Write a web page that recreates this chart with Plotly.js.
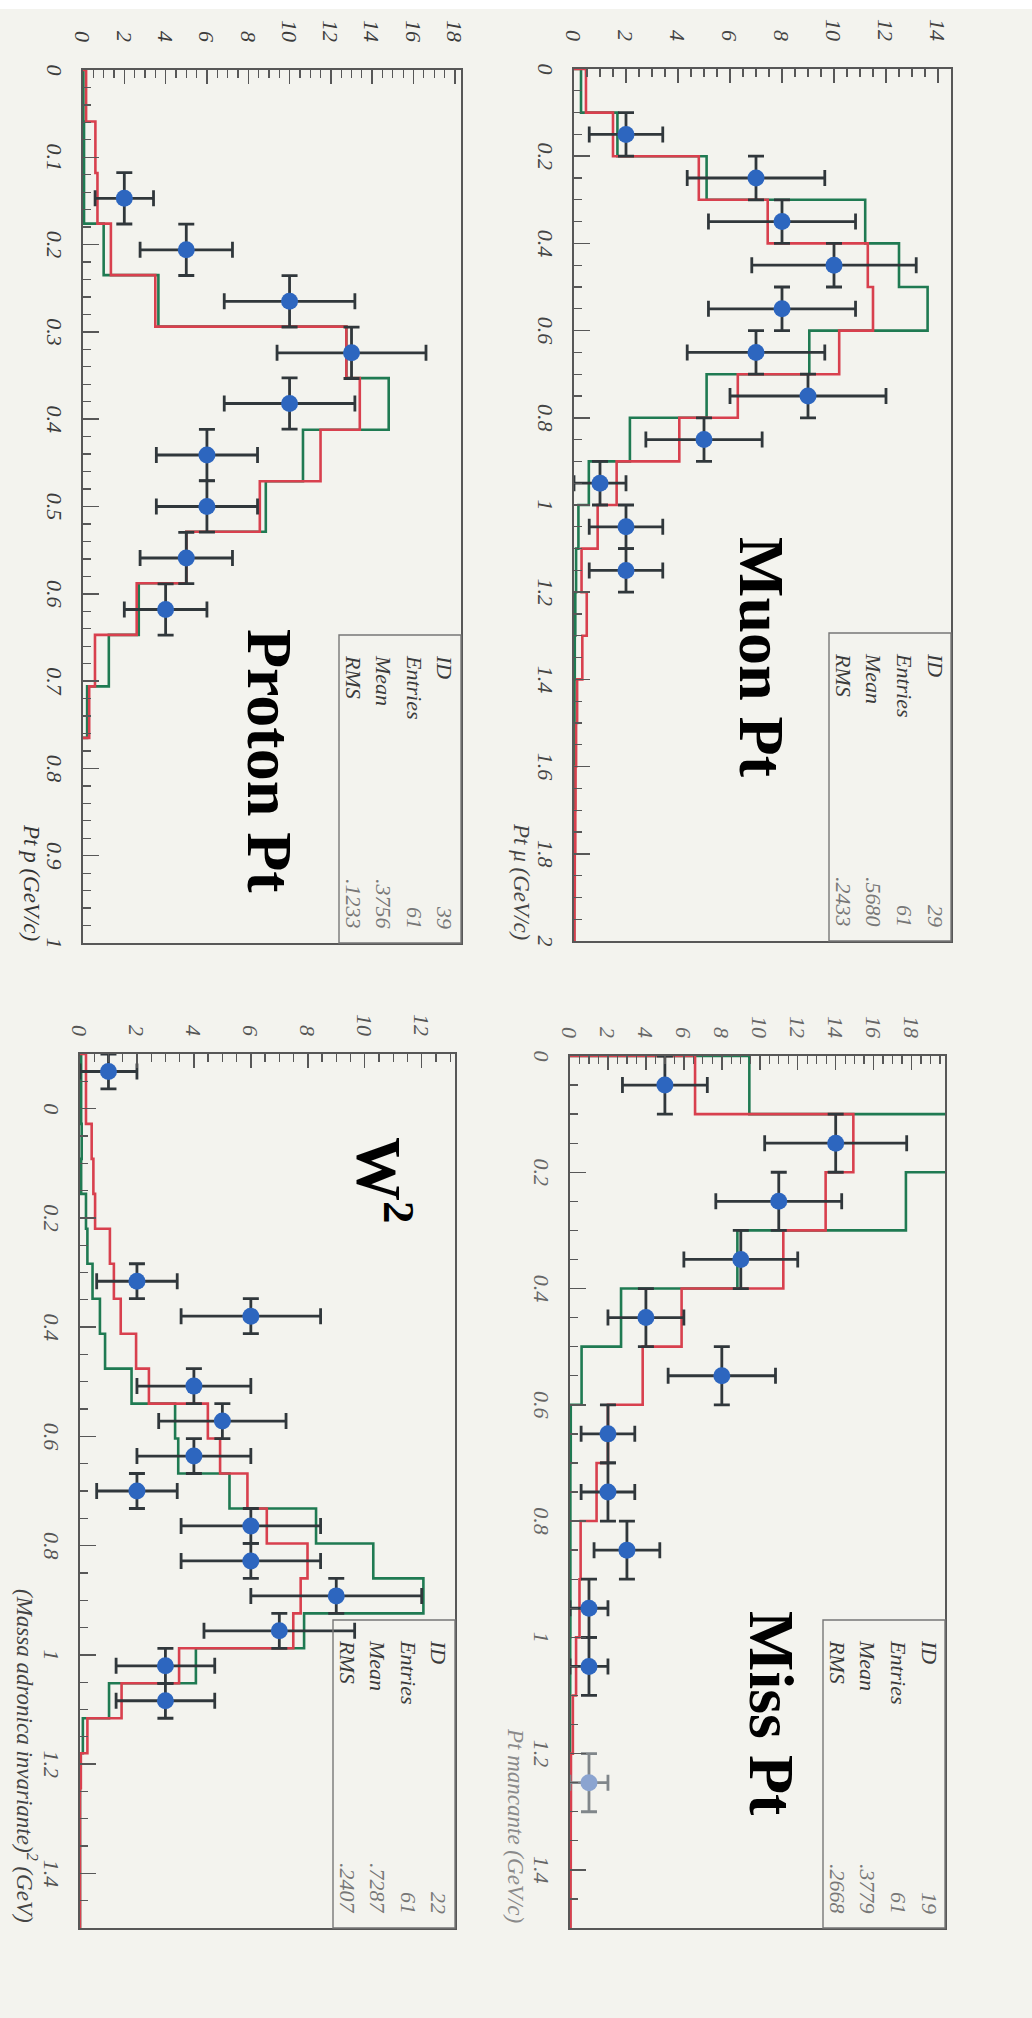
<!DOCTYPE html>
<html>
<head>
<meta charset="utf-8">
<script src="https://cdn.plot.ly/plotly-3.0.1.min.js"></script>
<style>
  html, body { margin: 0; padding: 0; width: 1032px; height: 2018px; overflow: hidden; background: #f3f3ee; }
  #edge { position: absolute; left: 0; top: 0; width: 1032px; height: 9px; background: #ffffff; }
  /* the four histograms are laid out on a landscape sheet, then turned a quarter turn clockwise */
  #sheet { position: absolute; left: 0; top: 0; width: 2018px; height: 1032px;
           transform-origin: 0 0; transform: translate(1032px, 0) rotate(90deg); }
</style>
</head>
<body>
<div id="edge"></div>
<div id="sheet"></div>
<script>
// ---------------- Muon Pt ----------------
const muonEdges = [0, 0.1, 0.2, 0.3, 0.4, 0.5, 0.6, 0.7, 0.8, 0.9, 1.0, 1.1, 1.2, 1.3, 1.4, 1.5, 1.6, 1.7, 1.8, 1.9, 2.0];
const muonRed   = [0.46, 1.5, 4.8, 7.45, 11.3, 11.5, 10.2, 6.3, 4.05, 1.64, 0.91, 0.29, 0.49, 0.32, 0.12, 0.08, 0.06, 0.05, 0.03, 0.02];
const muonGreen = [0.27, 1.67, 5.1, 11.2, 12.5, 13.6, 9.05, 5.1, 2.15, 0.57, 0.17, 0.08, 0.05, 0.03, 0.02, 0, 0, 0, 0, 0];
const muonX = [0.15, 0.25, 0.35, 0.45, 0.55, 0.65, 0.75, 0.85, 0.95, 1.05, 1.15];
const muonY = [2, 7, 8, 10, 8, 7, 9, 5, 1, 2, 2];
const muonStats = ['29', '61', '.5680', '.2433'];

// ---------------- Miss Pt ----------------
const missEdges = [0, 0.1, 0.2, 0.3, 0.4, 0.5, 0.6, 0.7, 0.8, 0.9, 1.0, 1.1, 1.2, 1.3, 1.4, 1.5];
const missRed   = [6.59, 14.93, 13.47, 11.24, 5.88, 3.83, 2.0, 1.4, 0.56, 0.5, 0.32, 0.15, 0.05, 0.04, 0.03];
const missGreen = [9.45, 21.7, 17.7, 8.82, 2.69, 0.61, 0.04, 0.02, 0.02, 0.02, 0.01, 0, 0, 0, 0];
const missX = [0.05, 0.15, 0.25, 0.35, 0.45, 0.55, 0.65, 0.75, 0.85, 0.95, 1.05, 1.25];
const missY = [5, 14, 11, 9, 4, 8, 2, 2, 3, 1, 1, 1];
const missFaint = [false, false, false, false, false, false, false, false, false, false, false, true];
const missStats = ['19', '61', '.3779', '.2668'];

// ---------------- Proton Pt ----------------
const protonEdges = [0, 0.059, 0.118, 0.176, 0.235, 0.294, 0.353, 0.412, 0.471, 0.529, 0.588, 0.647, 0.706, 0.765];
const protonRed   = [0.15, 0.6, 0.7, 1.35, 3.5, 12.75, 13.4, 11.5, 8.56, 5.0, 2.6, 0.58, 0.3];
const protonGreen = [0.02, 0.05, 0.05, 1.0, 3.65, 12.75, 14.8, 10.65, 8.85, 5.0, 2.7, 1.25, 0.2];
const protonX = [0.147, 0.206, 0.265, 0.324, 0.382, 0.441, 0.5, 0.559, 0.618];
const protonY = [2, 5, 10, 13, 10, 6, 6, 5, 4];
const protonStats = ['39', '61', '.3756', '.1233'];

// ---------------- W² ----------------
const w2Edges = [-0.1, -0.036, 0.028, 0.092, 0.156, 0.22, 0.284, 0.348, 0.412, 0.476, 0.54, 0.604, 0.668,
                 0.732, 0.796, 0.86, 0.924, 0.988, 1.052, 1.116, 1.18, 1.244, 1.308, 1.372, 1.436, 1.5];
const w2Red   = [0.21, 0.21, 0.41, 0.47, 0.53, 1.05, 1.19, 1.43, 1.97, 2.42, 4.49, 4.92, 5.88, 6.56, 7.99,
                 7.75, 7.49, 3.48, 1.46, 0.26, 0.03, 0, 0, 0, 0];
const w2Green = [0.04, 0.04, 0.06, 0.04, 0.21, 0.26, 0.44, 0.7, 0.88, 1.81, 3.34, 3.45, 5.25, 8.29, 10.3,
                 12.06, 7.87, 4.07, 1.02, 0.1, 0, 0, 0, 0, 0];
const w2X = [-0.068, 0.316, 0.38, 0.508, 0.572, 0.636, 0.7, 0.764, 0.828, 0.892, 0.956, 1.02, 1.084];
const w2Y = [1, 2, 6, 4, 5, 4, 2, 6, 6, 9, 7, 3, 3];
const w2Stats = ['22', '61', '.7287', '.2407'];

const statLabels = ['ID', 'Entries', 'Mean', 'RMS'];

// ---------------- sheet geometry (landscape pixels) ----------------
const W = 2018, H = 1032;
const px = v => v / W;
const py = v => 1 - v / H;

const SERIF = 'Liberation Serif, Times New Roman, serif';
const RED = '#d8404e', GREEN = '#1f7a52', BLUE = '#2d66bf', BAR = '#30373b', FRAME = '#575757';

const panels = [
  { key: '',  box: {x0: 69,   x1: 941,  y0: 81,  y1: 458}, xr: [0, 2],     xd: 0.2, xm: 0.05, yr: [0, 14.5],  ys: 22, xerr: 0.05,
    edges: muonEdges, red: muonRed, green: muonGreen, px: muonX, py: muonY, stats: muonStats,
    title: 'Muon Pt', tx: 657, ty: 270, axis: 'Pt μ (GeV/c)', ax: 942, ay: 510, axColor: '#444', tickColor: '#444' },
  { key: '2', box: {x0: 1056, x1: 1928, y0: 87,  y1: 462}, xr: [0, 1.5],   xd: 0.2, xm: 0.05, yr: [0, 19.76], ys: 12, xerr: 0.05,
    edges: missEdges, red: missRed, green: missGreen, px: missX, py: missY, stats: missStats, faint: missFaint,
    title: 'Miss Pt', tx: 1713, ty: 260, axis: 'Pt mancante (GeV/c)', ax: 1925, ay: 516, axColor: '#8a8a8a', tickColor: '#666' },
  { key: '3', box: {x0: 70,   x1: 943,  y0: 571, y1: 949}, xr: [0, 1],     xd: 0.1, xm: 0.02, yr: [0, 18.3],  ys: 22, xerr: 0.0294,
    edges: protonEdges, red: protonRed, green: protonGreen, px: protonX, py: protonY, stats: protonStats,
    title: 'Proton Pt', tx: 761, ty: 762, axis: 'Pt p (GeV/c)', ax: 943, ay: 1000, axColor: '#333', tickColor: '#3c3c3c' },
  { key: '4', box: {x0: 1054, x1: 1928, y0: 577, y1: 952}, xr: [-0.1, 1.5], xd: 0.2, xm: 0.05, yr: [0, 13.17], ys: 12, xerr: 0.032,
    edges: w2Edges, red: w2Red, green: w2Green, px: w2X, py: w2Y, stats: w2Stats,
    title: 'W<sup>2</sup>', tx: 1180, ty: 648, axis: '(Massa adronica invariante)<sup>2</sup> (GeV)', ax: 1925, ay: 1005, axColor: '#444', tickColor: '#555' }
];

// closed histogram outline from bin edges and contents
function outline(edges, vals) {
  const xs = [edges[0]].concat(edges, [edges[edges.length - 1]]);
  const ys = [0].concat(vals, [vals[vals.length - 1], 0]);
  return { xs, ys };
}

const traces = [];
const layout = {
  width: W, height: H,
  margin: {l: 0, r: 0, t: 0, b: 0},
  paper_bgcolor: 'rgba(0,0,0,0)', plot_bgcolor: 'rgba(0,0,0,0)',
  showlegend: false,
  font: {family: SERIF},
  annotations: [], shapes: []
};

panels.forEach(p => {
  const xa = 'x' + p.key, ya = 'y' + p.key;
  const xName = 'xaxis' + p.key, yName = 'yaxis' + p.key;
  const b = p.box;

  layout[xName] = {
    domain: [px(b.x0), px(b.x1)], range: p.xr, anchor: ya,
    tick0: 0, dtick: p.xd, ticks: 'inside', ticklen: 16, tickwidth: 1.5, tickcolor: FRAME,
    minor: {dtick: p.xm, tick0: 0, ticks: 'inside', ticklen: 8, tickwidth: 1.3, tickcolor: FRAME},
    showline: true, linecolor: FRAME, linewidth: 1.6, mirror: true,
    showgrid: false, zeroline: false, fixedrange: true,
    ticklabelstandoff: 8,
    tickfont: {family: SERIF, size: 22, color: p.tickColor, style: 'italic'}
  };
  layout[yName] = {
    domain: [py(b.y1), py(b.y0)], range: p.yr, anchor: xa,
    tick0: 0, dtick: 2, ticks: 'inside', ticklen: 14, tickwidth: 1.5, tickcolor: FRAME,
    minor: {dtick: 0.5, tick0: 0, ticks: 'inside', ticklen: 8, tickwidth: 1.3, tickcolor: FRAME},
    showline: true, linecolor: FRAME, linewidth: 1.6, mirror: true,
    showgrid: false, zeroline: false, fixedrange: true,
    ticklabelstandoff: p.ys,
    tickfont: {family: SERIF, size: 22, color: p.tickColor, style: 'italic'}
  };

  const g = outline(p.edges, p.green);
  traces.push({type: 'scatter', mode: 'lines', x: g.xs, y: g.ys, xaxis: xa, yaxis: ya,
               line: {color: GREEN, width: 2.6, shape: 'hv'}, hoverinfo: 'skip'});
  const r = outline(p.edges, p.red);
  traces.push({type: 'scatter', mode: 'lines', x: r.xs, y: r.ys, xaxis: xa, yaxis: ya,
               line: {color: RED, width: 2.6, shape: 'hv'}, hoverinfo: 'skip'});

  // data points, split into normal and faint markers
  const groups = [
    {sel: i => !(p.faint && p.faint[i]), mc: BLUE, ec: BAR},
    {sel: i => !!(p.faint && p.faint[i]), mc: '#8ba4d0', ec: '#80868a'}
  ];
  groups.forEach(gr => {
    const xs = [], ys = [];
    p.px.forEach((v, i) => { if (gr.sel(i)) { xs.push(v); ys.push(p.py[i]); } });
    if (!xs.length) return;
    traces.push({
      type: 'scatter', mode: 'markers', x: xs, y: ys, xaxis: xa, yaxis: ya,
      marker: {color: gr.mc, size: 17, line: {width: 0}},
      error_y: {type: 'sqrt', color: gr.ec, thickness: 2.8, width: 8},
      error_x: {type: 'constant', value: p.xerr, color: gr.ec, thickness: 2.8, width: 8},
      hoverinfo: 'skip'
    });
  });

  // statistics box
  const sb = {x0: b.x1 - 308, x1: b.x1, y0: b.y0, y1: b.y0 + 122};
  layout.shapes.push({type: 'rect', xref: 'paper', yref: 'paper',
    x0: px(sb.x0), x1: px(sb.x1), y0: py(sb.y0), y1: py(sb.y1),
    line: {color: '#777', width: 1.4}, fillcolor: 'rgba(0,0,0,0)'});
  const rows = [16, 46, 77, 107];
  statLabels.forEach((lab, i) => {
    layout.annotations.push({xref: 'paper', yref: 'paper', x: px(sb.x0 + 18), y: py(sb.y0 + rows[i]),
      xanchor: 'left', yanchor: 'middle', showarrow: false, text: lab,
      font: {family: SERIF, size: 22, color: '#3a3a3a', style: 'italic'}});
    layout.annotations.push({xref: 'paper', yref: 'paper', x: px(sb.x1 - 12), y: py(sb.y0 + rows[i]),
      xanchor: 'right', yanchor: 'middle', showarrow: false, text: p.stats[i],
      font: {family: SERIF, size: 22, color: '#777', style: 'italic'}});
  });

  // panel title
  layout.annotations.push({xref: 'paper', yref: 'paper', x: px(p.tx), y: py(p.ty),
    xanchor: 'center', yanchor: 'middle', showarrow: false, text: '<b>' + p.title + '</b>',
    font: {family: SERIF, size: 64, color: '#000', weight: 'bold'}});

  // axis title
  layout.annotations.push({xref: 'paper', yref: 'paper', x: px(p.ax), y: py(p.ay),
    xanchor: 'right', yanchor: 'middle', showarrow: false, text: p.axis,
    font: {family: SERIF, size: 23, color: p.axColor, style: 'italic'}});
});

Plotly.newPlot('sheet', traces, layout, {staticPlot: true, displayModeBar: false});
</script>
</body>
</html>
